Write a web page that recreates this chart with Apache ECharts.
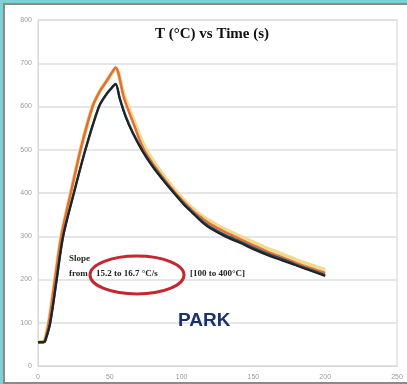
<!DOCTYPE html>
<html><head><meta charset="utf-8">
<script src="https://cdn.jsdelivr.net/npm/echarts@6/dist/echarts.min.js"></script>
<style>
html,body{margin:0;padding:0;width:407px;height:384px;overflow:hidden;background:#7fd0d4;}
#frame{position:absolute;left:3px;top:3px;width:404px;height:377px;background:#fff;border-left:2px solid #8a8a8a;border-top:2px solid #8a8a8a;border-bottom:2px solid #8a8a8a;}
#c{width:404px;height:377px;}
</style></head><body>
<div id="frame"><div id="c"></div></div>
<script>
// Time (s), Temperature (°C)
var xTicks = [0, 50, 100, 150, 200, 250];
var yTicks = [0, 100, 200, 300, 400, 500, 600, 700, 800];

var yellowT = [[0,55],[4,57],[5,62],[8,110],[12,205],[16.5,305],[23.5,410],[30,505],[38,600],[43,635],[47,655],[51,675],[54,688],
  [60,625],[67,565],[73,515],[80,475],[87,442],[94,412],[101,386],[108,363],[115,345],[120,334],[130,316],[141,299],[150,286],[160,271],[170,258],[180,245],[190,233],[200,222]];
var orangeT = [[0,55],[4,57],[5,62],[8,110],[12,205],[16.5,305],[23.5,410],[30,505],[38,600],[43,635],[47,655],[51,676],[54,690],
  [60,618],[67,556],[73,505],[80,467],[87,436],[94,407],[101,381],[108,358],[115,340],[120,328],[130,310],[141,293],[150,279],[160,264],[170,251],[180,238],[190,226],[200,215]];
var blueT = [[0,55],[4,55],[5,58],[8.5,100],[13,200],[17.5,300],[25,400],[33,500],[42.5,600],[48,630],[51,642],[54,652],
  [57,618],[61,578],[66,540],[73,497],[80,462],[87,432],[94,404],[101,377],[108,354],[114,336],[120,321],[130,303],[141,287],[150,273],[160,259],[170,247],[180,234],[190,222],[200,210]];
var blackT = [[0,55],[4,55],[5,58],[8.5,100],[13,200],[17.5,300],[25,400],[33,500],[42.5,600],[48,630],[51,642],[54,652],
  [57,617],[61,576],[66,538],[73,495],[80,460],[87,430],[94,402],[101,375],[108,352],[114,333],[120,318],[130,300],[141,284],[150,270],[160,256],[170,244],[180,232],[190,220],[200,208]];

var chart = echarts.init(document.getElementById('c'));
var lab = {color:'#9a9a9a', fontSize:7, fontFamily:'Liberation Sans'};
function ser(d, color, w){
  return {type:'line', data:d, showSymbol:false, smooth:0.3, lineStyle:{color:color, width:w}};
}
chart.setOption({
  animation:false,
  title:{text:'T (°C) vs Time (s)', left:145, top:17,
    textStyle:{fontFamily:'Liberation Serif', fontWeight:'bold', fontSize:15, color:'#111'}},
  grid:{left:33, top:15, right:12, bottom:16, show:true, borderColor:'#e2e2e2', borderWidth:1.5},
  xAxis:{type:'value', min:xTicks[0], max:xTicks[xTicks.length-1], interval:50,
    axisLine:{show:true, lineStyle:{color:'#d8d8d8'}}, axisTick:{show:false},
    splitLine:{show:false}, axisLabel:Object.assign({margin:8}, lab)},
  yAxis:{type:'value', min:yTicks[0], max:yTicks[yTicks.length-1], interval:100,
    axisLine:{show:true, lineStyle:{color:'#d8d8d8'}}, axisTick:{show:false},
    splitLine:{show:true, lineStyle:{color:'#dedede', width:1.5}}, axisLabel:Object.assign({margin:6}, lab)},
  series:[
    ser(yellowT, '#f3d98e', 4),
    ser(orangeT, '#e0703a', 2.5),
    ser(blueT, '#1f4e6e', 2.5),
    ser(blackT, '#222222', 2)
  ],
  graphic:[
    {type:'text', z:100, left:64, top:249, style:{text:'Slope', font:'bold 9px "Liberation Serif"', fill:'#1b2a1b'}},
    {type:'text', z:100, left:64, top:264, style:{text:'from', font:'bold 9px "Liberation Serif"', fill:'#222'}},
    {type:'text', z:100, left:91, top:264, style:{text:'15.2 to 16.7 °C/s', font:'bold 9px "Liberation Serif"', fill:'#222'}},
    {type:'text', z:100, left:185, top:264, style:{text:'[100 to 400°C]', font:'bold 9px "Liberation Serif"', fill:'#222'}},
    {type:'ellipse', z:100, shape:{cx:132, cy:270, rx:47, ry:19}, style:{fill:'none', stroke:'#c5262f', lineWidth:3}},
    {type:'text', z:100, left:173, top:306, style:{text:'PARK', font:'bold 19px "Liberation Sans"', fill:'#1a3370'}}
  ]
});
</script></body></html>
